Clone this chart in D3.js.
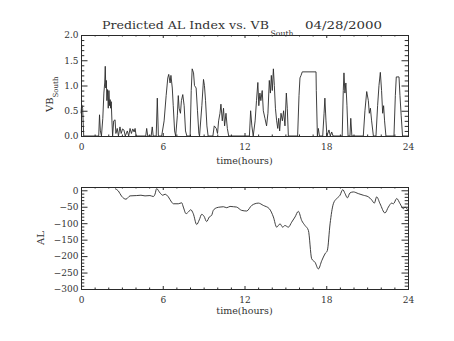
<!DOCTYPE html>
<html>
<head>
<meta charset="utf-8">
<script src="https://cdn.jsdelivr.net/npm/d3@7"></script>
<style>
  html, body { margin: 0; padding: 0; background: #fff; }
  svg { display: block; }
  text { font-family: "DejaVu Serif", "Liberation Serif", serif; fill: #333; }
</style>
</head>
<body>
<svg id="chart" width="454" height="341"></svg>
<script>
// Southward IMF driver (VB_South) sampled through the day, hours UT
const vbHours = [
  0.00, 0.05, 0.12, 0.20, 1.30, 1.36, 1.42, 1.50, 1.60, 1.68, 1.74, 1.78, 1.82, 1.86, 1.90, 1.95,
  2.00, 2.05, 2.10, 2.14, 2.18, 2.22, 2.27, 2.32, 2.40, 2.50, 2.56, 2.66, 2.75, 2.86, 2.95, 3.05,
  3.15, 3.25, 3.40, 3.50, 3.60, 3.70, 3.80, 3.90, 3.97, 4.05, 4.75, 4.82, 4.90, 5.15, 5.23, 5.30,
  5.52, 5.60, 5.68, 5.92, 6.10, 6.25, 6.37, 6.44, 6.54, 6.60, 6.70, 6.77, 6.87, 6.95, 7.07, 7.14,
  7.20, 7.30, 7.37, 7.47, 7.57, 7.67, 7.77, 8.01, 8.09, 8.16, 8.26, 8.33, 8.45, 8.55, 8.65, 8.70,
  8.87, 8.99, 9.06, 9.14, 9.24, 9.33, 9.68, 9.78, 9.93, 10.02, 10.10, 10.20, 10.27, 10.37, 10.46, 10.54,
  10.64, 10.74, 10.84, 12.36, 12.45, 12.54, 12.64, 12.78, 12.88, 12.98, 13.05, 13.13, 13.20, 13.30, 13.38, 13.50,
  13.62, 13.72, 13.82, 13.90, 13.97, 14.04, 14.12, 14.19, 14.27, 14.36, 14.44, 14.51, 14.58, 14.68, 14.78, 14.87,
  14.97, 15.07, 15.14, 15.22, 15.90, 16.00, 16.07, 16.15, 16.24, 17.25, 17.27, 17.35, 17.42, 17.50, 17.74, 17.84,
  17.90, 17.98, 18.05, 18.20, 18.30, 18.40, 18.50, 19.17, 19.25, 19.30, 19.37, 19.44, 19.52, 19.60, 19.74, 19.80,
  19.88, 20.72, 20.84, 20.97, 21.09, 21.16, 21.24, 21.33, 21.46, 21.65, 21.77, 21.87, 21.97, 22.06, 22.14, 22.21,
  22.28, 22.38, 22.97, 23.07, 23.14, 23.34, 23.41, 23.50, 23.60, 24.00
];
const vbValues = [
  0.45, 0.62, 0.55, 0.00, 0.00, 0.42, 0.10, 0.00, 0.35, 0.85, 1.05, 1.38, 0.95, 1.10, 0.70, 0.92,
  0.55, 0.90, 0.60, 0.72, 0.55, 0.68, 0.30, 0.00, 0.30, 0.32, 0.05, 0.15, 0.00, 0.18, 0.05, 0.14,
  0.12, 0.00, 0.10, 0.00, 0.15, 0.05, 0.14, 0.08, 0.15, 0.00, 0.00, 0.15, 0.00, 0.00, 0.18, 0.00,
  0.00, 0.75, 0.00, 0.00, 0.30, 0.80, 1.15, 1.22, 1.05, 1.20, 0.95, 0.60, 0.10, 0.00, 0.40, 0.80,
  0.55, 0.45, 0.70, 0.82, 0.60, 0.10, 0.00, 0.00, 0.90, 1.33, 1.25, 1.00, 0.95, 0.50, 0.05, 0.00,
  0.60, 1.12, 1.00, 0.70, 0.20, 0.00, 0.00, 0.20, 0.15, 0.05, 0.30, 0.45, 0.63, 0.30, 0.55, 0.20,
  0.45, 0.15, 0.00, 0.00, 0.50, 0.20, 0.00, 0.30, 0.70, 1.06, 0.60, 0.85, 0.70, 0.90, 0.50, 0.35,
  0.20, 0.45, 1.10, 0.85, 1.20, 0.90, 1.33, 1.00, 0.55, 0.30, 0.15, 0.35, 0.10, 0.45, 0.30, 0.50,
  0.20, 0.85, 0.55, 0.00, 0.00, 0.80, 1.15, 1.20, 1.27, 1.27, 0.90, 0.00, 0.15, 0.00, 0.00, 0.45,
  0.75, 0.30, 0.00, 0.12, 0.00, 0.08, 0.00, 0.00, 0.90, 1.25, 0.85, 1.05, 0.60, 0.00, 0.00, 0.35,
  0.00, 0.00, 0.50, 0.88, 0.70, 0.45, 0.55, 0.30, 0.00, 0.00, 0.60, 1.00, 1.26, 0.90, 0.45, 0.60,
  0.30, 0.00, 0.00, 0.80, 1.17, 1.17, 0.80, 0.40, 0.00, 0.00
];

// Predicted AL index (nT), hours UT
const alHours = [
  2.50, 2.74, 2.98, 3.30, 3.60, 4.09, 4.40, 4.70, 5.06, 5.31, 5.43, 5.55, 5.80, 6.00, 6.17, 6.41,
  6.65, 6.78, 7.14, 7.39, 7.51, 7.71, 7.88, 8.05, 8.24, 8.49, 8.68, 8.86, 9.03, 9.22, 9.42, 9.59,
  9.71, 9.96, 10.20, 10.45, 10.70, 10.94, 11.20, 11.42, 11.79, 12.16, 12.53, 13.02, 13.38, 13.82, 14.12, 14.36,
  14.61, 14.80, 14.97, 15.22, 15.46, 15.71, 15.95, 16.20, 16.44, 16.69, 16.93, 17.18, 17.42, 17.67, 17.91, 18.08,
  18.28, 18.52, 18.77, 19.01, 19.21, 19.38, 19.55, 19.74, 19.99, 20.35, 20.72, 21.09, 21.33, 21.53, 21.70, 21.95,
  22.31, 22.56, 22.80, 22.93, 23.17, 23.42, 23.66, 23.78, 24.00
];
const alValues = [
     5,    -2,   -18,   -27,   -17,   -16,   -15,   -17,   -16,   -19,   -12,     5,    -8,   -15,   -12,   -20,
   -36,   -41,   -41,   -38,   -51,   -71,   -66,   -59,   -71,  -104,   -90,   -73,   -79,   -95,   -81,   -76,
   -61,   -53,   -51,   -50,   -53,   -49,   -50,   -51,   -61,   -63,   -46,   -39,   -46,   -56,   -81,  -112,
  -102,  -112,  -107,  -112,   -97,   -81,   -64,   -92,  -107,  -122,  -208,  -219,  -239,  -214,  -193,  -183,
  -102,   -41,   -25,   -15,     2,   -10,   -23,    -8,    -5,   -10,   -15,   -20,   -29,   -39,   -20,   -41,
   -69,   -51,   -39,   -41,   -25,   -41,   -56,   -51,   -62
];

const hourTicks = ["0", "6", "12", "18", "24"];
const vbTicks = ["0.0", "0.5", "1.0", "1.5", "2.0"];
const alTicks = ["0", "-50", "-100", "-150", "-200", "-250", "-300"];

const svg = d3.select("#chart");
const ink = "#2a2a2a";
const textInk = "#333";

const x = d3.scaleLinear().domain([0, 24]).range([81, 408]);
const yVB = d3.scaleLinear().domain([0, 2]).range([136, 35]);
const yAL = d3.scaleLinear().domain([-300, 10]).range([289, 187]);

const hourMajor = hourTicks.map(Number);
const hourMinor = d3.range(0, 25, 1).filter(h => !hourMajor.includes(h));

function styleAxis(g) {
  g.select(".domain").remove();
  g.selectAll("line").attr("stroke", ink).attr("stroke-width", 1);
  g.selectAll("text").attr("font-size", 9).attr("fill", textInk)
    .attr("font-family", "DejaVu Serif, serif");
}

function frame(y, yMajor, yMinorStep, yFmt) {
  const [r0, r1] = y.range();
  const yd = y.domain();
  const yMinor = d3.range(Math.ceil(yd[0] / yMinorStep) * yMinorStep, yd[1] + 1e-9, yMinorStep)
    .filter(v => !yMajor.some(m => Math.abs(m - v) < 1e-9));

  // bottom axis with labels
  svg.append("g").attr("transform", `translate(0,${r0})`)
    .call(d3.axisBottom(x).tickValues(hourMajor).tickSize(-3).tickPadding(8)
      .tickFormat((d, i) => hourTicks[i]))
    .call(styleAxis);
  svg.append("g").attr("transform", `translate(0,${r0})`)
    .call(d3.axisBottom(x).tickValues(hourMinor).tickSize(-1.5).tickFormat(""))
    .call(styleAxis);
  // top axis, ticks only
  svg.append("g").attr("transform", `translate(0,${r1})`)
    .call(d3.axisTop(x).tickValues(hourMajor).tickSize(-3).tickFormat(""))
    .call(styleAxis);
  svg.append("g").attr("transform", `translate(0,${r1})`)
    .call(d3.axisTop(x).tickValues(hourMinor).tickSize(-1.5).tickFormat(""))
    .call(styleAxis);
  // left axis with labels
  svg.append("g").attr("transform", `translate(${x.range()[0]},0)`)
    .call(d3.axisLeft(y).tickValues(yMajor).tickSize(-6.5).tickPadding(2.5)
      .tickFormat((d, i) => yFmt[i]))
    .call(styleAxis);
  svg.append("g").attr("transform", `translate(${x.range()[0]},0)`)
    .call(d3.axisLeft(y).tickValues(yMinor).tickSize(-3.3).tickFormat(""))
    .call(styleAxis);
  // right axis, ticks only
  svg.append("g").attr("transform", `translate(${x.range()[1]},0)`)
    .call(d3.axisRight(y).tickValues(yMajor).tickSize(-6.5).tickFormat(""))
    .call(styleAxis);
  svg.append("g").attr("transform", `translate(${x.range()[1]},0)`)
    .call(d3.axisRight(y).tickValues(yMinor).tickSize(-3.3).tickFormat(""))
    .call(styleAxis);

  svg.append("rect")
    .attr("x", x.range()[0] + 0.5).attr("y", r1 + 0.5)
    .attr("width", x.range()[1] - x.range()[0]).attr("height", r0 - r1)
    .attr("fill", "none").attr("stroke", ink).attr("stroke-width", 1);
}

// ---- upper panel: VB_South ----
frame(yVB, vbTicks.map(Number), 0.1, vbTicks);

const vbLine = d3.line().x((d, i) => x(vbHours[i])).y(d => yVB(d));
svg.append("path").datum(vbValues)
  .attr("d", vbLine).attr("fill", "none")
  .attr("stroke", ink).attr("stroke-width", 0.9).attr("stroke-linejoin", "round");

// ---- lower panel: AL ----
frame(yAL, alTicks.map(Number), 10, alTicks.map(s => s.replace("-", "\u2212")));

const alLine = d3.line().x((d, i) => x(alHours[i])).y(d => yAL(d)).curve(d3.curveMonotoneX);
svg.append("path").datum(alValues)
  .attr("d", alLine).attr("fill", "none")
  .attr("stroke", ink).attr("stroke-width", 0.9).attr("stroke-linejoin", "round");

// ---- titles and axis captions ----
svg.append("text").attr("x", 102).attr("y", 29).attr("font-size", 11)
  .attr("textLength", 167).attr("lengthAdjust", "spacingAndGlyphs")
  .text("Predicted AL Index vs. VB");
svg.append("text").attr("x", 270.5).attr("y", 35.5).attr("font-size", 7.5)
  .attr("textLength", 23).attr("lengthAdjust", "spacingAndGlyphs")
  .text("South");
svg.append("text").attr("x", 305).attr("y", 29).attr("font-size", 11)
  .attr("textLength", 77).attr("lengthAdjust", "spacingAndGlyphs")
  .text("04/28/2000");

const xMid = (x.range()[0] + x.range()[1]) / 2;
svg.append("text").attr("x", xMid).attr("y", 164).attr("font-size", 9.5)
  .attr("text-anchor", "middle").text("time(hours)");
svg.append("text").attr("x", xMid).attr("y", 313.5).attr("font-size", 9.5)
  .attr("text-anchor", "middle").text("time(hours)");

// rotated y captions
const vbCap = svg.append("text").attr("transform", "translate(53,112) rotate(-90)");
vbCap.append("tspan").attr("font-size", 10).text("VB");
vbCap.append("tspan").attr("font-size", 7).attr("dy", 5).text("South");

svg.append("text").attr("transform", "translate(43.5,238) rotate(-90)")
  .attr("font-size", 10).attr("text-anchor", "middle").text("AL");
</script>
</body>
</html>
